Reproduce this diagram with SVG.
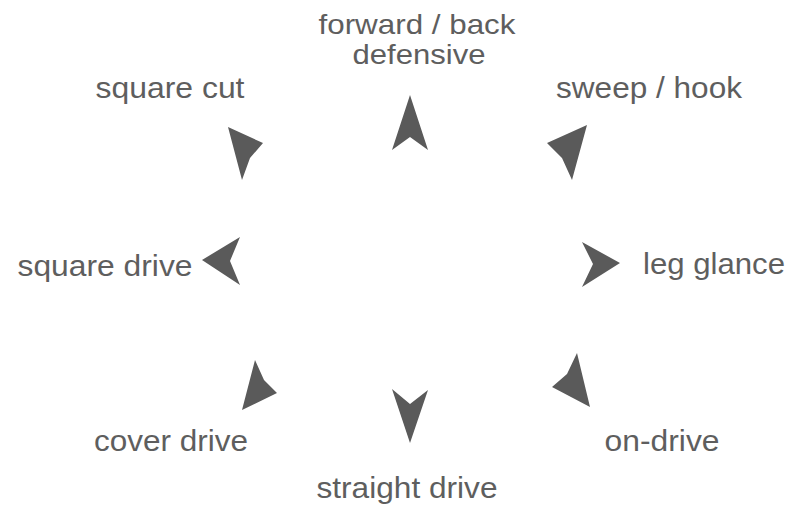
<svg xmlns="http://www.w3.org/2000/svg" width="804" height="505" viewBox="0 0 804 505">
<style>
.lbl{font-family:"Liberation Sans",Arial,sans-serif;font-size:30px;fill:#5e5e5e;text-anchor:middle}
.two{font-size:28px}
.arr{fill:#5a5a5a}
</style>
<rect width="804" height="505" fill="#ffffff"/>
<g id="forward-back">
<polygon class="arr" points="410,95 428,150 410,137 392,150"/>
<text class="lbl two" x="417" y="34" textLength="197" lengthAdjust="spacingAndGlyphs">forward / back</text>
<text class="lbl two" x="419" y="64" textLength="133" lengthAdjust="spacingAndGlyphs">defensive</text>
</g>
<g id="sweep-hook">
<polygon class="arr" points="587,125 572,180 562,158 547,143"/>
<text class="lbl" x="649" y="98" textLength="186" lengthAdjust="spacingAndGlyphs">sweep / hook</text>
</g>
<g id="leg-glance">
<polygon class="arr" points="620,263 582,287 593,264 582,242"/>
<text class="lbl" x="714" y="274" textLength="142" lengthAdjust="spacingAndGlyphs">leg glance</text>
</g>
<g id="on-drive">
<polygon class="arr" points="590,407 552,387 567,374 577,353"/>
<text class="lbl" x="662" y="451" textLength="115" lengthAdjust="spacingAndGlyphs">on-drive</text>
</g>
<g id="straight-drive">
<polygon class="arr" points="410,443 392,389 410,404 428,390"/>
<text class="lbl" x="407" y="498" textLength="181" lengthAdjust="spacingAndGlyphs">straight drive</text>
</g>
<g id="cover-drive">
<polygon class="arr" points="242,410 255,360 264,380 277,393"/>
<text class="lbl" x="171" y="451" textLength="154" lengthAdjust="spacingAndGlyphs">cover drive</text>
</g>
<g id="square-drive">
<polygon class="arr" points="202,260 240,237 230,261 240,285"/>
<text class="lbl" x="105" y="276" textLength="175" lengthAdjust="spacingAndGlyphs">square drive</text>
</g>
<g id="square-cut">
<polygon class="arr" points="228,127 263,143 250,158 242,180"/>
<text class="lbl" x="170" y="98" textLength="149" lengthAdjust="spacingAndGlyphs">square cut</text>
</g>
<g id="connectors"></g>
</svg>
